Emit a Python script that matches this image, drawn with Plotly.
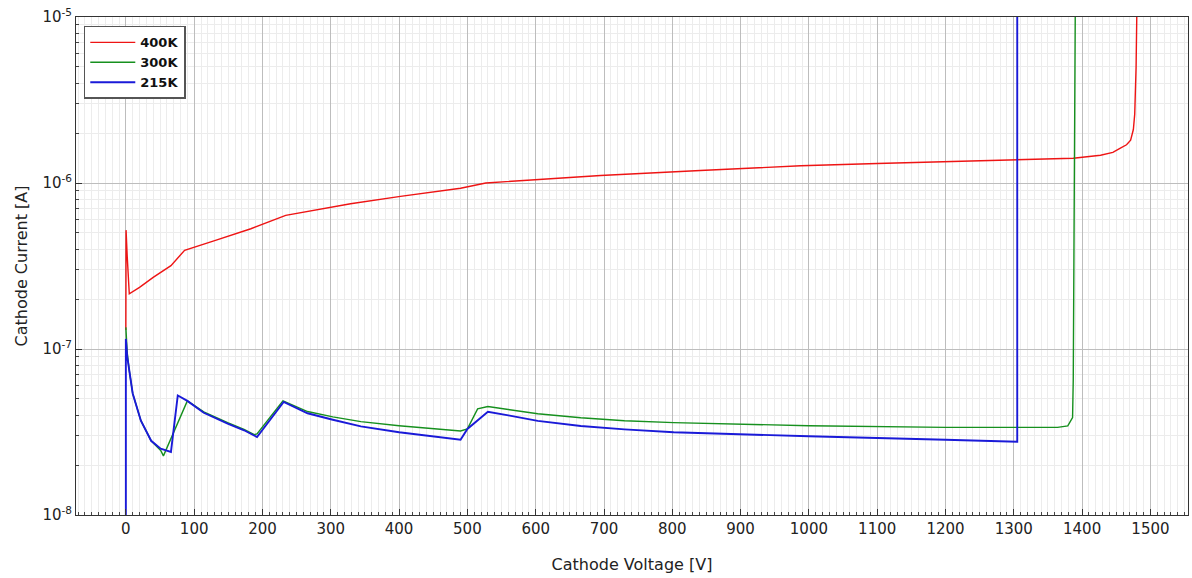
import plotly.graph_objects as go

# 400K curve
v_400 = [0, 0.3, 2, 5, 20, 40, 66, 86, 130, 183, 234, 280, 329, 402, 490, 527,
         607, 695, 841, 988, 1100, 1200, 1280, 1387, 1427, 1445, 1456, 1465, 1471, 1475, 1477, 1479, 1480, 1481]
i_400 = [1.3e-7, 5.2e-7, 3.6e-7, 2.15e-7, 2.35e-7, 2.7e-7, 3.18e-7, 3.93e-7, 4.5e-7, 5.3e-7, 6.38e-7,
         6.9e-7, 7.5e-7, 8.3e-7, 9.3e-7, 1.0e-6, 1.05e-6, 1.11e-6, 1.19e-6, 1.27e-6, 1.31e-6, 1.34e-6,
         1.37e-6, 1.41e-6, 1.47e-6, 1.53e-6, 1.62e-6, 1.7e-6, 1.81e-6, 2.1e-6, 2.6e-6, 5e-6, 1e-5, 1.2e-5]

# 300K curve
v_300 = [0, 2, 5, 10, 22, 37, 51, 55, 90, 114, 149, 173, 188, 192, 230, 266, 303, 344, 400, 450, 490, 500,
         515, 530, 560, 603, 666, 730, 802, 900, 1000, 1200, 1300, 1364, 1379, 1386, 1387, 1388, 1389, 1390]
i_300 = [1.35e-7, 9.5e-8, 7.4e-8, 5.4e-8, 3.7e-8, 2.8e-8, 2.45e-8, 2.27e-8, 4.87e-8, 4.18e-8, 3.6e-8,
         3.28e-8, 3.05e-8, 3.08e-8, 4.87e-8, 4.2e-8, 3.9e-8, 3.65e-8, 3.45e-8, 3.3e-8, 3.21e-8, 3.3e-8,
         4.36e-8, 4.5e-8, 4.3e-8, 4.07e-8, 3.85e-8, 3.7e-8, 3.6e-8, 3.52e-8, 3.45e-8, 3.37e-8, 3.35e-8,
         3.37e-8, 3.44e-8, 3.86e-8, 6.5e-8, 5e-7, 1e-5, 1.2e-5]

# 215K curve
v_215 = [0, 0, 2, 5, 10, 22, 37, 51, 66, 76, 90, 114, 149, 173, 192, 231, 266, 303, 344, 400, 450, 490,
         500, 530, 560, 603, 666, 730, 802, 900, 1000, 1200, 1305, 1305]
i_215 = [9e-9, 1.15e-7, 9e-8, 7.4e-8, 5.4e-8, 3.7e-8, 2.8e-8, 2.51e-8, 2.4e-8, 5.25e-8, 4.87e-8,
         4.13e-8, 3.55e-8, 3.24e-8, 2.95e-8, 4.8e-8, 4.1e-8, 3.75e-8, 3.42e-8, 3.15e-8, 2.97e-8, 2.84e-8,
         3.3e-8, 4.19e-8, 3.98e-8, 3.69e-8, 3.44e-8, 3.28e-8, 3.15e-8, 3.06e-8, 2.98e-8, 2.84e-8, 2.76e-8, 1.2e-5]

x_ticks = list(range(0, 1501, 100))
y_tickvals = [1e-8, 1e-7, 1e-6, 1e-5]
y_ticktext = ["10<sup>-8</sup>", "10<sup>-7</sup>", "10<sup>-6</sup>", "10<sup>-5</sup>"]

font_family = "DejaVu Sans, Open Sans, sans-serif"

fig = go.Figure()
fig.add_trace(go.Scatter(x=v_400, y=i_400, mode="lines", name="400K",
                         line=dict(color="#ee1414", width=1.4)))
fig.add_trace(go.Scatter(x=v_300, y=i_300, mode="lines", name="300K",
                         line=dict(color="#16901e", width=1.4)))
fig.add_trace(go.Scatter(x=v_215, y=i_215, mode="lines", name="215K",
                         line=dict(color="#1a1ad8", width=1.9)))

fig.update_layout(
    width=1192, height=578,
    margin=dict(l=76, r=4, t=17, b=63),
    paper_bgcolor="white", plot_bgcolor="white",
    font=dict(family=font_family, size=15, color="#222222"),
    showlegend=True,
    legend=dict(x=0.007, y=0.982, xanchor="left", yanchor="top",
                bgcolor="white", bordercolor="#555555", borderwidth=1.5,
                font=dict(family=font_family, size=13, color="#111111", weight="bold"),
                itemwidth=45, tracegroupgap=2),
)

fig.update_xaxes(
    range=[-73, 1555], automargin=False,
    tickvals=x_ticks,
    ticks="inside", ticklen=6, tickcolor="#333333",
    showline=True, linecolor="#333333", linewidth=1, mirror=True,
    showgrid=True, gridcolor="#bdbdbd", gridwidth=1,
    zeroline=False,
    tickfont=dict(size=15),
    minor=dict(dtick=10, showgrid=True, gridcolor="#ececec", gridwidth=1,
               ticks="inside", ticklen=3, tickcolor="#444444"),
    title=dict(text="Cathode Voltage [V]", font=dict(size=16), standoff=21),
)

fig.update_yaxes(
    type="log",
    range=[-8, -5], automargin=False,
    tickvals=y_tickvals, ticktext=y_ticktext,
    ticks="inside", ticklen=6, tickcolor="#333333",
    showline=True, linecolor="#333333", linewidth=1, mirror=True,
    showgrid=True, gridcolor="#bdbdbd", gridwidth=1,
    zeroline=False,
    tickfont=dict(size=15),
    minor=dict(dtick="D1", showgrid=True, gridcolor="#ececec", gridwidth=1,
               ticks="inside", ticklen=3, tickcolor="#444444"),
    title=dict(text="Cathode Current [A]", font=dict(size=16), standoff=10),
)

fig.write_html("out.html", config={"displayModeBar": False},
               post_script="document.body.style.margin='0px';")
